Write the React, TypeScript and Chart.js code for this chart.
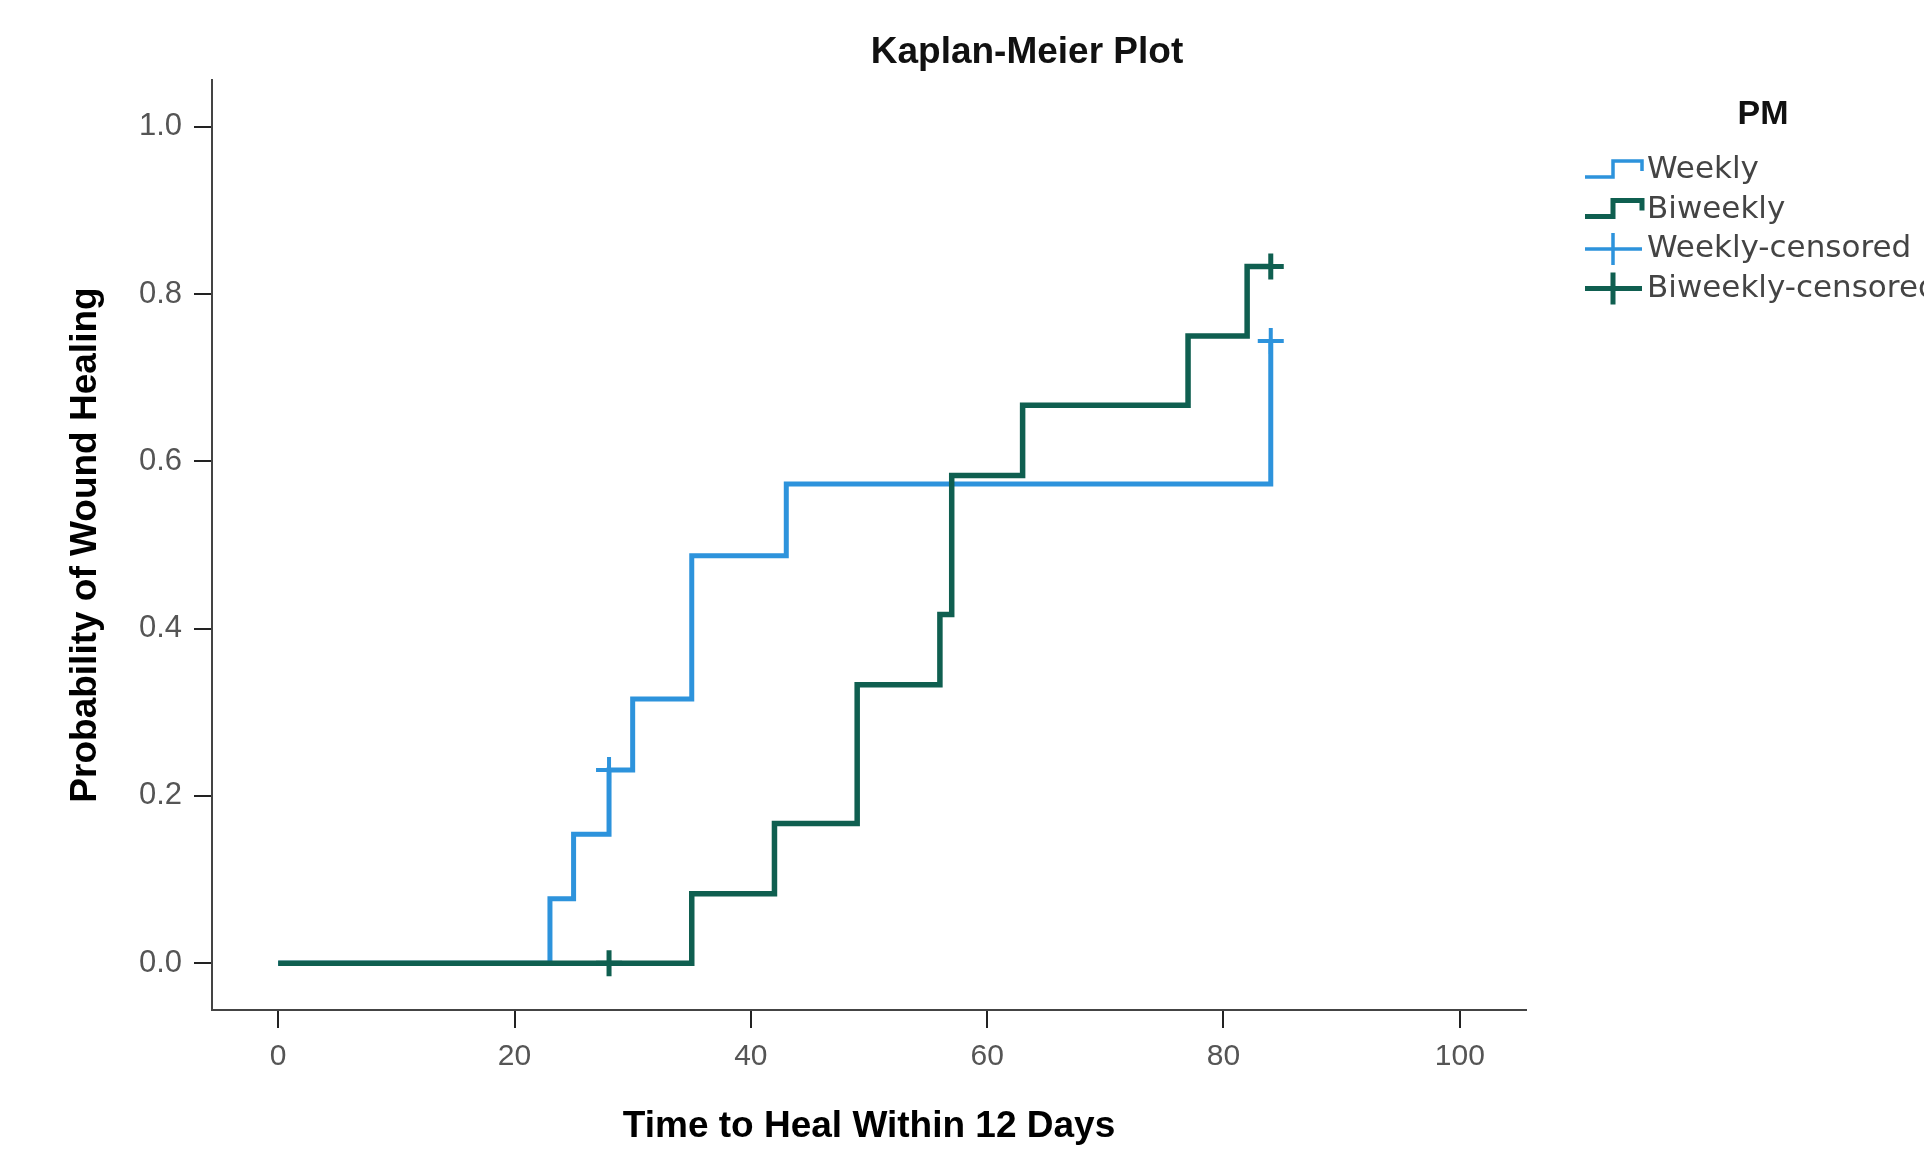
import React, { useEffect, useRef } from "react";
import { Chart, registerables } from "chart.js";

Chart.register(...registerables);

// ---- text ----
const chartTitle = "Kaplan-Meier Plot";
const legendTitle = "PM";
const xAxisTitle = "Time to Heal Within 12 Days";
const yAxisTitle = "Probability of Wound Healing";
const seriesNames = ["Weekly", "Biweekly"];
const censoredSuffix = "-censored";

// ---- data (time in days, cumulative probability of healing) ----
const weeklyTimes = [0, 23, 25, 28, 30, 35, 43, 84];
const weeklyProb = [0, 0.077, 0.154, 0.231, 0.316, 0.487, 0.573, 0.744];
const weeklyCensorTimes = [28, 84];
const weeklyCensorProb = [0.231, 0.744];

const biweeklyTimes = [0, 35, 42, 49, 56, 57, 63, 77, 82, 84];
const biweeklyProb = [0, 0.083, 0.167, 0.333, 0.417, 0.583, 0.667, 0.75, 0.833, 0.833];
const biweeklyCensorTimes = [28, 84];
const biweeklyCensorProb = [0, 0.833];

// ---- ticks ----
const xTickValues = [0, 20, 40, 60, 80, 100];
const yTickValues = [0, 0.2, 0.4, 0.6, 0.8, 1.0];

// ---- styles ----
const weeklyColor = "#2d93dc";
const biweeklyColor = "#0f5f50";
const tickColor = "#555555";
const sansFamily = "'Liberation Sans', Arial, Helvetica, sans-serif";
const legendFamily = "'DejaVu Sans', Verdana, sans-serif";

const toPoints = (xs: number[], ys: number[]) => xs.map((x, i) => ({ x, y: ys[i] }));

const titleLegendPlugin = {
  id: "kmTitleLegend",
  afterDraw(chart: any) {
    const { ctx, chartArea } = chart;
    ctx.save();
    // chart title
    ctx.fillStyle = "#111";
    ctx.font = `bold 37px ${sansFamily}`;
    ctx.textAlign = "center";
    ctx.textBaseline = "middle";
    ctx.fillText(chartTitle, chartArea.left + (chartArea.right - chartArea.left) / 2 + 158, 53);

    // legend
    const x0 = chartArea.right + 59;
    const x1 = x0 + 57;
    const xm = x0 + 28;
    ctx.font = `bold 34px ${sansFamily}`;
    ctx.fillStyle = "#111";
    ctx.fillText(legendTitle, x0 + 178, 115);

    const items = [
      { label: seriesNames[0], color: weeklyColor, kind: "step", w: 3.5 },
      { label: seriesNames[1], color: biweeklyColor, kind: "step", w: 5 },
      { label: seriesNames[0] + censoredSuffix, color: weeklyColor, kind: "cross", w: 3.5 },
      { label: seriesNames[1] + censoredSuffix, color: biweeklyColor, kind: "cross", w: 5 },
    ];
    items.forEach((it, i) => {
      const yc = 170 + i * 39.5;
      ctx.strokeStyle = it.color;
      ctx.lineWidth = it.w;
      ctx.lineCap = "butt";
      ctx.lineJoin = "miter";
      ctx.beginPath();
      if (it.kind === "step") {
        const low = yc + 7;
        const high = yc - 9;
        ctx.moveTo(x0, low);
        ctx.lineTo(xm, low);
        ctx.lineTo(xm, high);
        ctx.lineTo(x1, high);
        ctx.lineTo(x1, high + 10);
      } else {
        ctx.moveTo(x0, yc);
        ctx.lineTo(x1, yc);
        ctx.moveTo(xm, yc - 16);
        ctx.lineTo(xm, yc + 16);
      }
      ctx.stroke();
      ctx.fillStyle = "#444";
      ctx.font = `31px ${legendFamily}`;
      ctx.textAlign = "left";
      ctx.textBaseline = "middle";
      ctx.fillText(it.label, x1 + 5, yc);
    });
    ctx.restore();
  },
};

export default function App() {
  const ref = useRef<HTMLCanvasElement>(null);

  useEffect(() => {
    if (!ref.current) return;
    const chart = new Chart(ref.current, {
      type: "line",
      data: {
        datasets: [
          {
            type: "line",
            label: seriesNames[0],
            data: toPoints(weeklyTimes, weeklyProb),
            stepped: true,
            borderColor: weeklyColor,
            borderWidth: 5,
            borderCapStyle: "butt",
            borderJoinStyle: "miter",
            pointRadius: 0,
            fill: false,
            order: 4,
          },
          {
            type: "line",
            label: seriesNames[1],
            data: toPoints(biweeklyTimes, biweeklyProb),
            stepped: true,
            borderColor: biweeklyColor,
            borderWidth: 5.5,
            borderCapStyle: "butt",
            borderJoinStyle: "miter",
            pointRadius: 0,
            fill: false,
            order: 3,
          },
          {
            type: "line",
            label: seriesNames[0] + censoredSuffix,
            data: toPoints(weeklyCensorTimes, weeklyCensorProb),
            showLine: false,
            pointStyle: "cross",
            pointRadius: 13,
            pointBorderWidth: 4,
            borderColor: weeklyColor,
            pointBorderColor: weeklyColor,
            order: 2,
          },
          {
            type: "line",
            label: seriesNames[1] + censoredSuffix,
            data: toPoints(biweeklyCensorTimes, biweeklyCensorProb),
            showLine: false,
            pointStyle: "cross",
            pointRadius: 13,
            pointBorderWidth: 5,
            borderColor: biweeklyColor,
            pointBorderColor: biweeklyColor,
            order: 1,
          },
        ],
      } as any,
      options: {
        responsive: false,
        devicePixelRatio: 1,
        animation: false,
        layout: { padding: { left: 0, top: 80, right: 398, bottom: 0 } },
        plugins: {
          legend: { display: false },
          title: { display: false },
          tooltip: { enabled: false },
        },
        scales: {
          x: {
            type: "linear",
            min: -5.6,
            max: 105.6,
            afterBuildTicks: (s: any) => {
              s.ticks = xTickValues.map((v) => ({ value: v }));
            },
            afterFit: (s: any) => {
              s.height = 143;
            },
            ticks: {
              color: tickColor,
              font: { family: sansFamily, size: 30 },
              padding: 11,
              maxRotation: 0,
              callback: (v: any) => String(v),
            },
            grid: {
              drawOnChartArea: false,
              drawTicks: true,
              tickLength: 18,
              color: "#222",
              lineWidth: 2,
            },
            border: { display: true, color: "#444", width: 2 },
            title: {
              display: true,
              text: xAxisTitle,
              color: "#000",
              font: { family: sansFamily, size: 37, weight: "bold" },
              padding: { top: 0, bottom: 4 },
            },
          },
          y: {
            type: "linear",
            min: -0.056,
            max: 1.056,
            afterBuildTicks: (s: any) => {
              s.ticks = yTickValues.map((v) => ({ value: v }));
            },
            afterFit: (s: any) => {
              s.width = 212;
            },
            ticks: {
              color: tickColor,
              font: { family: sansFamily, size: 31 },
              padding: 12,
              callback: (v: any) => Number(v).toFixed(1),
            },
            grid: {
              drawOnChartArea: false,
              drawTicks: true,
              tickLength: 18,
              color: "#222",
              lineWidth: 2,
            },
            border: { display: true, color: "#444", width: 2 },
            title: {
              display: true,
              text: yAxisTitle,
              color: "#000",
              font: { family: sansFamily, size: 37, weight: "bold" },
              padding: { top: 64, bottom: 0 },
            },
          },
        },
      } as any,
      plugins: [titleLegendPlugin],
    });
    return () => chart.destroy();
  }, []);

  return (
    <div style={{ position: "fixed", left: 0, top: 0, width: 1924, height: 1153, background: "#fff" }}>
      <canvas ref={ref} width={1924} height={1153} style={{ display: "block", width: 1924, height: 1153 }} />
    </div>
  );
}
